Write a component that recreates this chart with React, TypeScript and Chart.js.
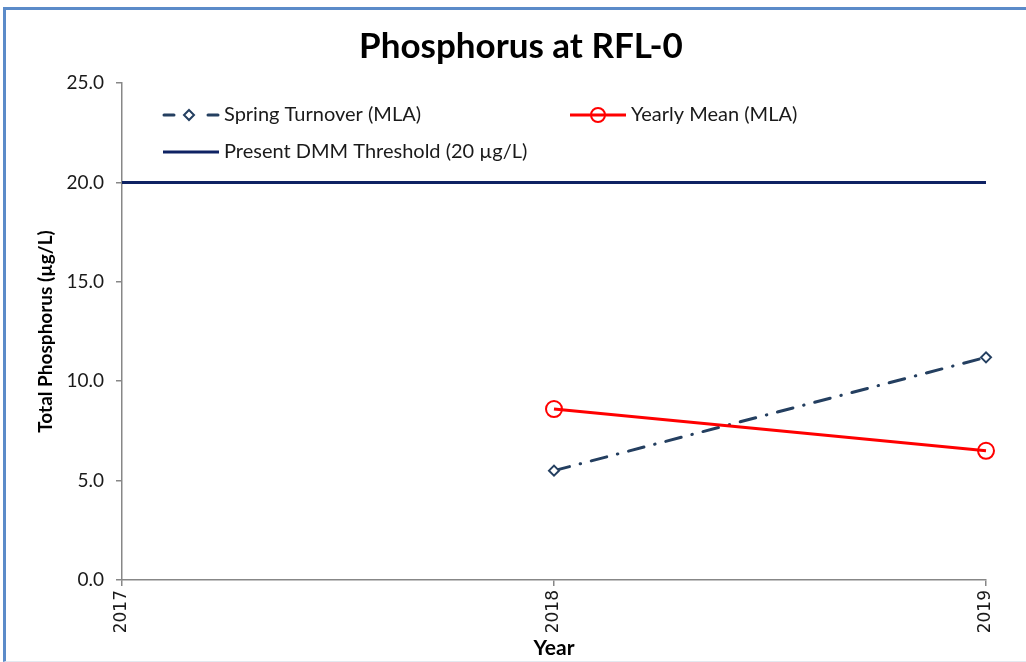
import React, { useEffect, useRef } from "react";
import { Chart, registerables } from "chart.js";

Chart.register(...registerables);

const chartTitle = "Phosphorus at RFL-0";
const xAxisTitle = "Year";
const yAxisTitle = "Total Phosphorus (µg/L)";
const xTickYears = [2017, 2018, 2019];
const yTickValues = [0, 5, 10, 15, 20, 25];
const springYears = [2018, 2019];
const springValues = [5.5, 11.2];
const meanYears = [2018, 2019];
const meanValues = [8.6, 6.5];
const thresholdYears = [2017, 2019];
const thresholdValues = [20, 20];
const seriesLabels = [
  "Spring Turnover (MLA)",
  "Yearly Mean (MLA)",
  "Present DMM Threshold (20 µg/L)",
];

const FONT = "Lato, 'Open Sans', sans-serif";
const NAVY = "#243F60";
const DARKNAVY = "#0E2263";
const RED = "#FF0000";
const AXIS = "#878787";

const titlePlugin = {
  id: "centredTitle",
  afterDraw(chart: any) {
    const { ctx } = chart;
    ctx.save();
    ctx.font = `bold 35px ${FONT}`;
    ctx.fillStyle = "#000";
    ctx.textAlign = "center";
    ctx.textBaseline = "middle";
    ctx.fillText(chartTitle, 521, 47);
    ctx.restore();
  },
};

const legendPlugin = {
  id: "innerLegend",
  afterDraw(chart: any) {
    const { ctx, chartArea } = chart;
    const rows = [
      { x: chartArea.left + 41, y: 115, idx: 0 },
      { x: chartArea.left + 448, y: 115, idx: 1 },
      { x: chartArea.left + 41, y: 152, idx: 2 },
    ];
    ctx.save();
    ctx.font = `20px ${FONT}`;
    ctx.textBaseline = "middle";
    for (const r of rows) {
      const x0 = r.x;
      const x1 = r.x + 56;
      const y = r.y;
      ctx.lineWidth = 3;
      if (r.idx === 0) {
        ctx.strokeStyle = NAVY;
        ctx.lineCap = "round";
        ctx.beginPath();
        ctx.moveTo(x0 + 1, y);
        ctx.lineTo(x0 + 11, y);
        ctx.moveTo(x1 - 11, y);
        ctx.lineTo(x1 - 1, y);
        ctx.stroke();
        ctx.lineWidth = 2;
        ctx.fillStyle = "#fff";
        const cx = (x0 + x1) / 2 - 2;
        ctx.beginPath();
        ctx.moveTo(cx, y - 5);
        ctx.lineTo(cx + 5, y);
        ctx.lineTo(cx, y + 5);
        ctx.lineTo(cx - 5, y);
        ctx.closePath();
        ctx.fill();
        ctx.stroke();
      } else if (r.idx === 1) {
        ctx.strokeStyle = RED;
        ctx.lineCap = "butt";
        ctx.beginPath();
        ctx.moveTo(x0, y);
        ctx.lineTo(x1, y);
        ctx.stroke();
        ctx.lineWidth = 2;
        ctx.beginPath();
        ctx.arc((x0 + x1) / 2, y, 7, 0, Math.PI * 2);
        ctx.stroke();
      } else {
        ctx.strokeStyle = DARKNAVY;
        ctx.lineCap = "butt";
        ctx.beginPath();
        ctx.moveTo(x0, y);
        ctx.lineTo(x1, y);
        ctx.stroke();
      }
      ctx.fillStyle = "#1a1a1a";
      ctx.textAlign = "left";
      ctx.fillText(seriesLabels[r.idx], x1 + 5, y);
    }
    ctx.restore();
  },
};

export default function App() {
  const ref = useRef<HTMLCanvasElement | null>(null);

  useEffect(() => {
    if (!ref.current) return;
    const chart = new Chart(ref.current, {
      type: "line",
      data: {
        datasets: [
          {
            label: seriesLabels[2],
            data: thresholdYears.map((x, i) => ({ x, y: thresholdValues[i] })),
            borderColor: DARKNAVY,
            borderWidth: 3,
            pointRadius: 0,
            fill: false,
            clip: false,
            order: 3,
          },
          {
            label: seriesLabels[0],
            data: springYears.map((x, i) => ({ x, y: springValues[i] })),
            borderColor: NAVY,
            borderWidth: 3,
            borderDash: [16, 11, 0.5, 11],
            borderCapStyle: "round",
            pointStyle: "rectRot",
            pointRadius: 5,
            pointBorderWidth: 2,
            pointBackgroundColor: "#ffffff",
            pointBorderColor: NAVY,
            fill: false,
            clip: false,
            order: 2,
          },
          {
            label: seriesLabels[1],
            data: meanYears.map((x, i) => ({ x, y: meanValues[i] })),
            borderColor: RED,
            borderWidth: 3,
            pointStyle: "circle",
            pointRadius: 8,
            pointBorderWidth: 2,
            pointBackgroundColor: "rgba(0,0,0,0)",
            pointBorderColor: RED,
            fill: false,
            clip: false,
            order: 1,
          },
        ],
      },
      options: {
        responsive: false,
        animation: false,
        layout: { padding: { left: 0, right: 40, top: 83, bottom: 0 } },
        plugins: {
          legend: { display: false },
          tooltip: { enabled: false },
          title: { display: false },
        },
        scales: {
          x: {
            type: "linear",
            min: xTickYears[0],
            max: xTickYears[xTickYears.length - 1],
            afterBuildTicks: (scale: any) => {
              scale.ticks = xTickYears.map((v) => ({ value: v }));
            },
            afterFit: (scale: any) => {
              scale.height = 82;
            },
            ticks: {
              minRotation: 90,
              maxRotation: 90,
              padding: 4,
              color: "#1a1a1a",
              font: { family: "'DejaVu Sans', sans-serif", size: 17 },
              callback: (v: any) => String(v),
            },
            grid: {
              display: true,
              drawOnChartArea: false,
              tickLength: 6,
              color: AXIS,
              lineWidth: 1.5,
            },
            border: { color: AXIS, width: 1.5 },
            title: {
              display: true,
              text: xAxisTitle,
              color: "#000",
              font: { family: FONT, size: 21, weight: "bold" },
              padding: { top: 0, bottom: 1 },
            },
          },
          y: {
            type: "linear",
            min: yTickValues[0],
            max: yTickValues[yTickValues.length - 1],
            afterBuildTicks: (scale: any) => {
              scale.ticks = yTickValues.map((v) => ({ value: v }));
            },
            afterFit: (scale: any) => {
              scale.width = 122;
            },
            ticks: {
              padding: 12,
              color: "#1a1a1a",
              font: { family: FONT, size: 19 },
              callback: (v: any) => Number(v).toFixed(1),
            },
            grid: {
              display: true,
              drawOnChartArea: false,
              tickLength: 6,
              color: AXIS,
              lineWidth: 1.5,
            },
            border: { color: AXIS, width: 1.5 },
            title: {
              display: true,
              text: yAxisTitle,
              color: "#000",
              font: { family: FONT, size: 19, weight: "bold" },
              padding: { top: 34, bottom: 0 },
            },
          },
        },
      },
      plugins: [titlePlugin, legendPlugin],
    } as any);
    return () => chart.destroy();
  }, []);

  return (
    <div
      style={{
        position: "fixed",
        left: 0,
        top: 0,
        width: 1026,
        height: 662,
        overflow: "hidden",
        background: "#fff",
      }}
    >
      <div
        style={{
          position: "absolute",
          left: 3,
          top: 7,
          width: 1100,
          height: 651,
          borderTop: "3px solid #5B8BC9",
          borderLeft: "3px solid #5B8BC9",
          borderBottom: "1px solid #E3E9F0",
        }}
      />
      <canvas
        ref={ref}
        width={1026}
        height={662}
        style={{ position: "absolute", left: 0, top: 0 }}
      />
    </div>
  );
}
